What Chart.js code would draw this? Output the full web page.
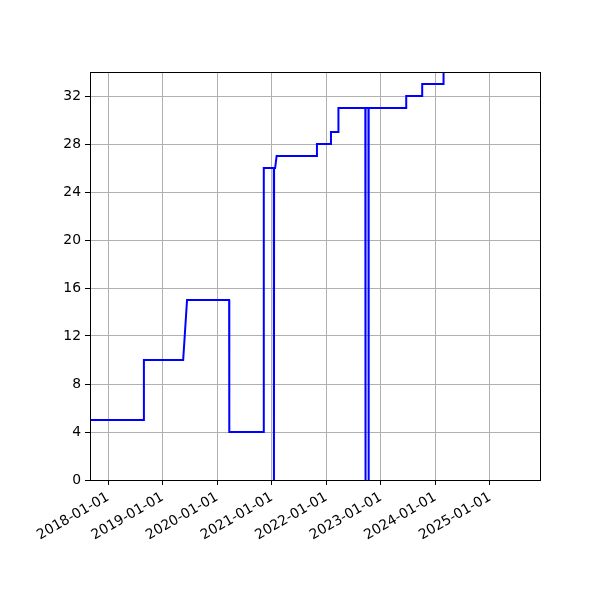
<!DOCTYPE html>
<html lang="en">
<head>
    <meta charset="UTF-8">
    <title>Step chart</title>
    <script src="https://cdn.jsdelivr.net/npm/chart.js@4.4.0/dist/chart.umd.min.js"></script>
    <style>
        body { margin: 0; background: #fff; }
    </style>
</head>
<body>
    <canvas id="stepChart" width="600" height="600"></canvas>

    <script>
        // points, two per jump
        const dates = [
            '2017-09-01', '2018-08-27', '2018-08-28', '2019-05-18', '2019-06-13',
            '2020-03-21', '2020-03-22', '2020-11-07', '2020-11-08', '2021-01-14',
            '2021-01-15', '2021-01-16', '2021-01-23', '2021-02-02', '2021-10-29',
            '2021-10-30', '2022-01-31', '2022-02-01', '2022-03-22', '2022-03-23',
            '2022-09-19', '2022-09-20', '2022-09-21', '2022-10-10', '2022-10-11',
            '2022-10-12', '2023-06-19', '2023-06-20', '2023-10-04', '2023-10-05',
            '2024-02-24', '2024-02-25', '2025-12-02'
        ];
        const values = [
            5, 5, 10, 10, 15,
            15, 4, 4, 26, 26,
            0, 26, 26, 27, 27,
            28, 28, 29, 29, 31,
            31, 0, 31, 31, 0,
            31, 31, 32, 32, 33,
            33, 36, 36
        ];
        const xTickDates = ['2018-01-01', '2019-01-01', '2020-01-01', '2021-01-01',
                            '2022-01-01', '2023-01-01', '2024-01-01', '2025-01-01'];
        const yTicks = [0, 4, 8, 12, 16, 20, 24, 28, 32];
        const xRange = ['2017-09-01', '2025-12-02'];
        const yRange = [0, 34];

        const points = dates.map((d, i) => ({ x: Date.parse(d), y: values[i] }));

        function fmtDate(ms) {
            return new Date(ms).toISOString().slice(0, 10);
        }

        // matplotlib-like box round the plot area
        const frame = {
            id: 'frame',
            afterDatasetsDraw(chart) {
                const a = chart.chartArea;
                const ctx = chart.ctx;
                ctx.save();
                ctx.strokeStyle = '#000';
                ctx.lineWidth = 1;
                ctx.strokeRect(Math.round(a.left) + 0.5, Math.round(a.top) + 0.5,
                               Math.round(a.right - a.left), Math.round(a.bottom - a.top));
                ctx.restore();
            }
        };

        const font = { family: 'DejaVu Sans', size: 13.9 };

        new Chart(document.getElementById('stepChart'), {
            type: 'line',
            data: {
                datasets: [{
                    data: points,
                    borderColor: '#0000ff',
                    borderWidth: 2,
                    pointRadius: 0,
                    tension: 0,
                    fill: false
                }]
            },
            options: {
                responsive: false,
                animation: false,
                layout: { padding: { top: 72, right: 60, left: 0, bottom: 0 } },
                plugins: {
                    legend: { display: false },
                    tooltip: { enabled: false }
                },
                scales: {
                    x: {
                        type: 'linear',
                        min: Date.parse(xRange[0]),
                        max: Date.parse(xRange[1]),
                        afterBuildTicks(scale) {
                            scale.ticks = xTickDates.map(d => ({ value: Date.parse(d) }));
                        },
                        afterFit(scale) { scale.height = 120; },
                        grid: {
                            color: '#b0b0b0',
                            lineWidth: 1,
                            tickLength: 5,
                            tickColor: '#000'
                        },
                        border: { color: '#000' },
                        ticks: {
                            autoSkip: false,
                            minRotation: 30,
                            maxRotation: 30,
                            padding: 4,
                            color: '#000',
                            font: font,
                            callback: v => fmtDate(v)
                        }
                    },
                    y: {
                        min: yRange[0],
                        max: yRange[1],
                        afterBuildTicks(scale) {
                            scale.ticks = yTicks.map(v => ({ value: v }));
                        },
                        afterFit(scale) { scale.width = 90; },
                        grid: {
                            color: '#b0b0b0',
                            lineWidth: 1,
                            tickLength: 5,
                            tickColor: '#000'
                        },
                        border: { color: '#000' },
                        ticks: {
                            padding: 4,
                            color: '#000',
                            font: font
                        }
                    }
                }
            },
            plugins: [frame]
        });
    </script>
</body>
</html>
